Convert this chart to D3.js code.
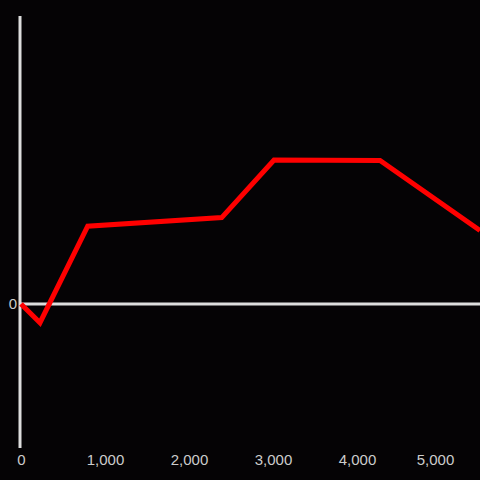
<!DOCTYPE html>
<html>
<head>
<meta charset="utf-8">
<script src="https://cdn.jsdelivr.net/npm/d3@7"></script>
<style>
	body { margin: 0; background: #050305; }
	svg { display: block; }
	.tick text { fill: #cccccc; font-family: "Liberation Sans", Arial, sans-serif; font-size: 15px; }
</style>
</head>
<body>
<div id="chart"></div>
<script>
var xValues = [0, 226, 794, 2389, 3012, 4274, 5464];
var yValues = [0, -6.5, 27, 30, 50, 49.8, 25.5];
var xTicks = [0, 1000, 2000, 3000, 4000, 5000];
var yTicks = [0];

var width = 480, height = 480;

var x = d3.scaleLinear()
	.domain([0, 5464])
	.range([21, 480]);

var y = d3.scaleLinear()
	.domain([-50, 100])
	.range([448, 16]);

var svg = d3.select("#chart").append("svg")
	.attr("width", width)
	.attr("height", height);

svg.append("rect")
	.attr("width", width)
	.attr("height", height)
	.attr("fill", "#050305");

// bottom tick labels only
var xAxis = d3.axisBottom(x)
	.tickValues(xTicks)
	.tickSize(0)
	.tickPadding(0)
	.tickFormat(d3.format(","));

svg.append("g")
	.attr("transform", "translate(0,454)")
	.call(xAxis)
	.call(function(g) { g.select(".domain").remove(); })
	.selectAll("text")
	.attr("dy", "0.71em")
	.attr("dx", function(d) { return d === 5000 ? -6 : 0; });

var yAxis = d3.axisLeft(y)
	.tickValues(yTicks)
	.tickSize(0)
	.tickPadding(0);

svg.append("g")
	.attr("transform", "translate(17,0)")
	.call(yAxis)
	.call(function(g) { g.select(".domain").remove(); });

// vertical axis line
svg.append("line")
	.attr("x1", 20).attr("x2", 20)
	.attr("y1", y(100)).attr("y2", y(-50))
	.attr("stroke", "#dddddd")
	.attr("stroke-width", 3);

// zero line
svg.append("line")
	.attr("x1", 20).attr("x2", width)
	.attr("y1", y(0)).attr("y2", y(0))
	.attr("stroke", "#dddddd")
	.attr("stroke-width", 3);

var line = d3.line()
	.x(function(d, i) { return x(xValues[i]); })
	.y(function(d) { return y(d); });

svg.append("path")
	.datum(yValues)
	.attr("d", line)
	.attr("fill", "none")
	.attr("stroke", "#ff0000")
	.attr("stroke-width", 5)
	.attr("stroke-linejoin", "miter");
</script>
</body>
</html>
